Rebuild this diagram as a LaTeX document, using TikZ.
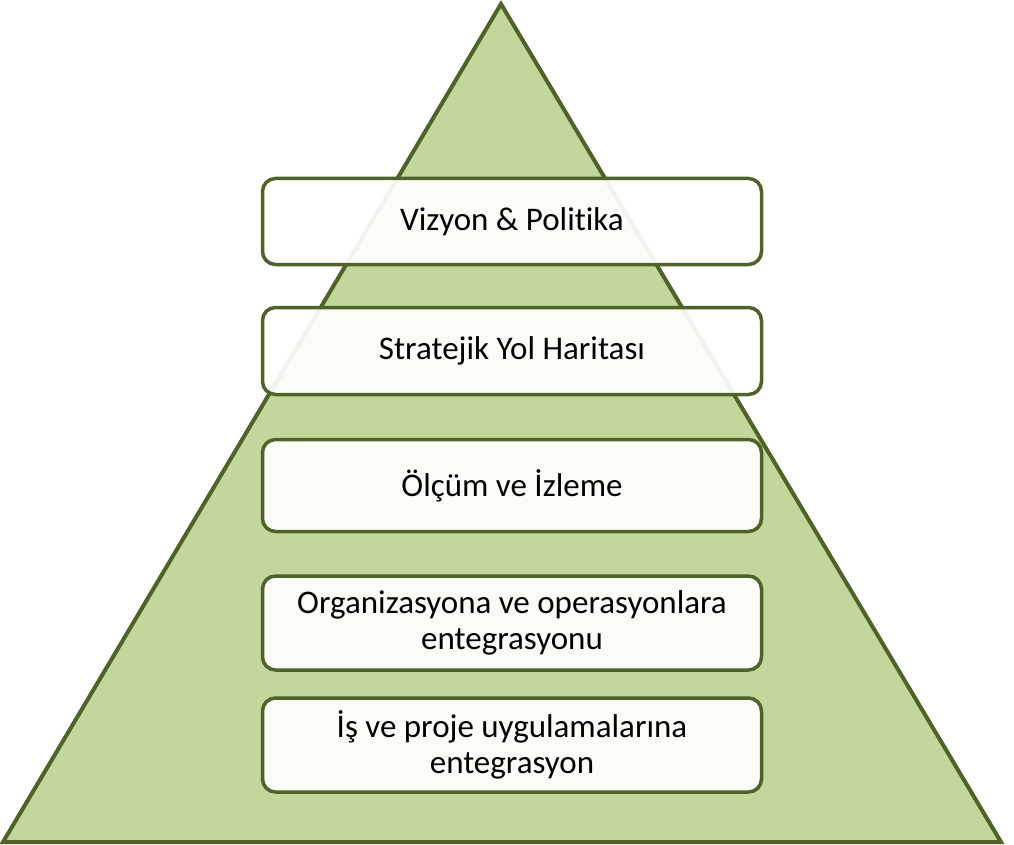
\documentclass[tikz,border=0pt]{standalone}
\usepackage{fontspec}
\setmainfont[Ligatures={NoCommon}]{Carlito}
\definecolor{pyrfill}{HTML}{C3D69B}
\definecolor{pyrline}{HTML}{4F6228}
\tikzset{
  layerbox/.style={draw=pyrline, line width=3.5pt, fill=white, fill opacity=0.93, text opacity=1,
    rounded corners=13pt, minimum width=499pt, align=center, inner sep=0pt,
    font=\fontsize{33}{36}\selectfont, text=black},
}
\begin{document}
\begin{tikzpicture}[x=1pt,y=-1pt]
\useasboundingbox (0,0) rectangle (1014,845);
\coordinate (apex) at (501,4);
\coordinate (bl) at (3,842);
\coordinate (br) at (1001,842);
\draw[pyrline, fill=pyrfill, line width=4pt, line join=miter] (apex) -- (br) -- (bl) -- cycle;
\node[layerbox, minimum height=86pt] (b1) at (512,221.5) {Vizyon \& Politika};
\node[layerbox, minimum height=87pt] (b2) at (512,351) {Stratejik Yol Haritası};
\node[layerbox, minimum height=92pt] (b3) at (512,485.5) {Ölçüm ve İzleme};
\node[layerbox, minimum height=94pt] (b4) at (512,623) {Organizasyona ve operasyonlara\\entegrasyonu};
\node[layerbox, minimum height=94pt] (b5) at (512,745) {İş ve proje uygulamalarına\\entegrasyon};
\end{tikzpicture}
\end{document}
